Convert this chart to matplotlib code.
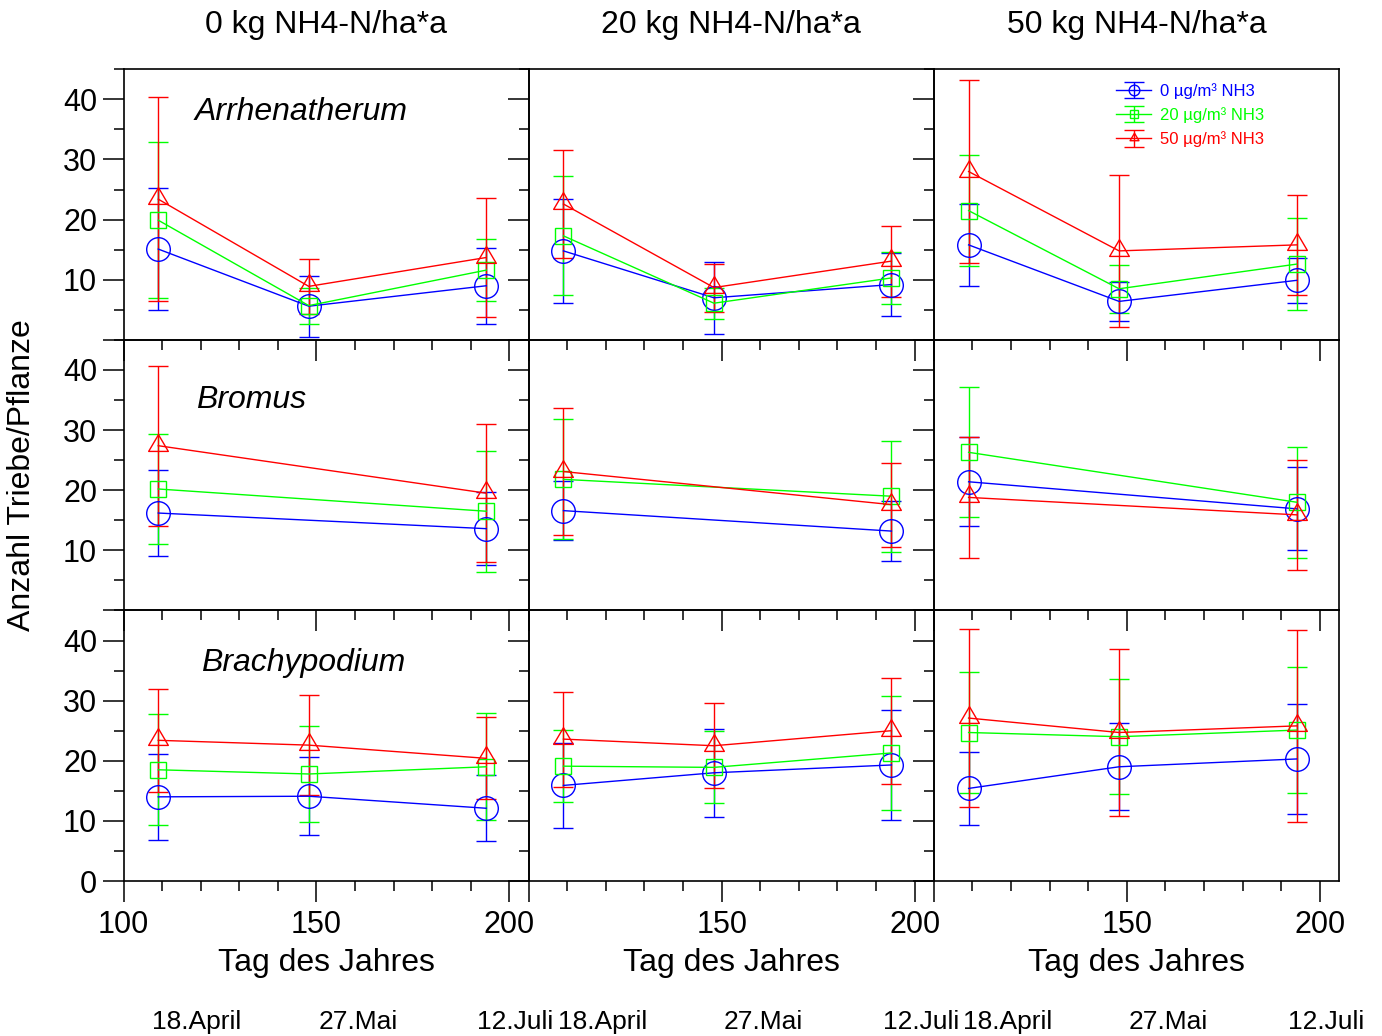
import matplotlib
matplotlib.use("Agg")
import matplotlib.pyplot as plt
from matplotlib.path import Path
from matplotlib.ticker import MultipleLocator

plt.rcParams['font.family'] = ['Liberation Sans', 'DejaVu Sans']

# Tag des Jahres der Messungen
days = [109, 148, 194]
days_bromus = [109, 194]

n_levels = ["0 kg NH4-N/ha*a", "20 kg NH4-N/ha*a", "50 kg NH4-N/ha*a"]
species = ["Arrhenatherum", "Bromus", "Brachypodium"]
nh3_labels = ["0 µg/m³ NH3", "20 µg/m³ NH3", "50 µg/m³ NH3"]
date_labels = ["18.April", "27.Mai", "12.Juli"]

# Mittelwerte (Zeilen: 0, 20, 50 µg/m³ NH3) und Fehlerbalken
arrh_n0_mean = [[15.1, 5.6, 9.0], [19.9, 5.7, 11.6], [23.4, 8.9, 13.7]]
arrh_n0_err = [[10.2, 5.1, 6.3], [13.0, 3.0, 5.1], [17.0, 4.6, 9.9]]
arrh_n20_mean = [[14.8, 7.0, 9.2], [17.3, 6.1, 10.3], [22.6, 8.7, 13.1]]
arrh_n20_err = [[8.7, 6.0, 5.2], [9.9, 2.6, 4.3], [9.0, 4.0, 5.9]]
arrh_n50_mean = [[15.8, 6.4, 9.9], [21.5, 8.5, 12.6], [28.0, 14.8, 15.8]]
arrh_n50_err = [[6.8, 3.3, 3.8], [9.2, 4.0, 7.6], [15.2, 12.6, 8.3]]

brom_n0_mean = [[16.2, 13.6], [20.2, 16.5], [27.4, 19.5]]
brom_n0_err = [[7.2, 6.1], [9.2, 10.1], [13.3, 11.5]]
brom_n20_mean = [[16.6, 13.2], [21.8, 19.0], [23.1, 17.6]]
brom_n20_err = [[4.9, 5.0], [10.0, 9.2], [10.5, 7.0]]
brom_n50_mean = [[21.4, 16.9], [26.3, 18.0], [18.8, 15.9]]
brom_n50_err = [[7.4, 6.9], [10.8, 9.2], [10.0, 9.1]]

brach_n0_mean = [[14.0, 14.1, 12.1], [18.5, 17.8, 19.0], [23.4, 22.6, 20.4]]
brach_n0_err = [[7.2, 6.5, 5.5], [9.2, 8.0, 8.9], [8.6, 8.3, 6.8]]
brach_n20_mean = [[15.9, 18.0, 19.3], [19.1, 18.9, 21.3], [23.6, 22.5, 25.0]]
brach_n20_err = [[7.0, 7.3, 9.2], [6.0, 6.0, 9.5], [7.9, 7.1, 8.8]]
brach_n50_mean = [[15.4, 19.0, 20.3], [24.7, 24.0, 25.1], [27.1, 24.7, 25.8]]
brach_n50_err = [[6.1, 7.2, 9.1], [10.1, 9.6, 10.5], [14.8, 13.9, 16.0]]

grid = [
    [(arrh_n0_mean, arrh_n0_err), (arrh_n20_mean, arrh_n20_err), (arrh_n50_mean, arrh_n50_err)],
    [(brom_n0_mean, brom_n0_err), (brom_n20_mean, brom_n20_err), (brom_n50_mean, brom_n50_err)],
    [(brach_n0_mean, brach_n0_err), (brach_n20_mean, brach_n20_err), (brach_n50_mean, brach_n50_err)],
]
row_days = [days, days_bromus, days]

colors = ['#0000ff', '#00ff00', '#ff0000']
tri = Path([(0, 12), (-10, -5), (10, -5), (0, 12)], closed=True)  # Dreieck etwas nach oben versetzt
markers = ['o', 's', tri]
msizes = [17, 12, 17]

fig, axes = plt.subplots(3, 3, figsize=(13.82, 10.36), dpi=100)
fig.subplots_adjust(left=0.0894, right=0.9689, top=0.9331, bottom=0.1496, wspace=0, hspace=0)

species_pos = [(0.176, 0.813), (0.178, 0.748), (0.191, 0.776)]

for r in range(3):
    for c in range(3):
        ax = axes[r, c]
        ax.patch.set_visible(False)
        mean, err = grid[r][c]
        for k in range(3):
            ax.errorbar(row_days[r], mean[k], yerr=err[k], color=colors[k], marker=markers[k],
                        ms=msizes[k], mfc='none', mec=colors[k], mew=1.0, lw=1.0,
                        elinewidth=1.0, capsize=7.5, capthick=1.0, label=nh3_labels[k])
        ax.set_xlim(100, 205)
        ax.set_ylim(0, 45)
        ax.set_xticks([100, 150, 200])
        ax.set_yticks([0, 10, 20, 30, 40])
        ax.xaxis.set_minor_locator(MultipleLocator(10))
        ax.yaxis.set_minor_locator(MultipleLocator(5))
        ax.tick_params(which='both', direction='out', top=False, right=False, width=1.1,
                       labelsize=22, colors='black')
        ax.tick_params(which='major', length=15)
        ax.tick_params(which='minor', length=7.5)
        ax.tick_params(axis='x', pad=6)
        ax.tick_params(axis='y', pad=4)
        for sp in ax.spines.values():
            sp.set_linewidth(1.2)

        if r == 2:
            ax.set_xticklabels(['100', '150', '200'] if c == 0 else ['', '150', '200'])
            ax.text(0.5, -0.3325, "Tag des Jahres", transform=ax.transAxes, ha='center',
                    va='baseline', fontsize=23)
            for lab, xp in zip(date_labels, [107.5, 150.5, 191.7]):
                ax.text(xp, -0.547, lab, transform=ax.get_xaxis_transform(), ha='left',
                        va='baseline', fontsize=19)
        else:
            ax.set_xticklabels([])
        if c == 0:
            ax.set_yticklabels(['0', '10', '20', '30', '40'] if r == 2 else ['', '10', '20', '30', '40'])
            sx, sy = species_pos[r]
            ax.text(sx, sy, species[r], transform=ax.transAxes, ha='left', va='baseline',
                    fontsize=23, style='italic')
        else:
            ax.set_yticklabels([])
        if r == 0:
            ax.text(0.5, 1.164, n_levels[c], transform=ax.transAxes, ha='center',
                    va='center', fontsize=23)

leg = axes[0, 2].legend(loc='upper left', bbox_to_anchor=(0.45, 0.95), frameon=False,
                        fontsize=12, markerscale=0.45, handlelength=2.1, handletextpad=0.55,
                        labelspacing=0.5, borderpad=0, borderaxespad=0)
for txt, col in zip(leg.get_texts(), colors):
    txt.set_color(col)

fig.text(0.016, 0.5415, "Anzahl Triebe/Pflanze", rotation=90, ha='center', va='center', fontsize=23)

fig.savefig("out.png", dpi=100)
